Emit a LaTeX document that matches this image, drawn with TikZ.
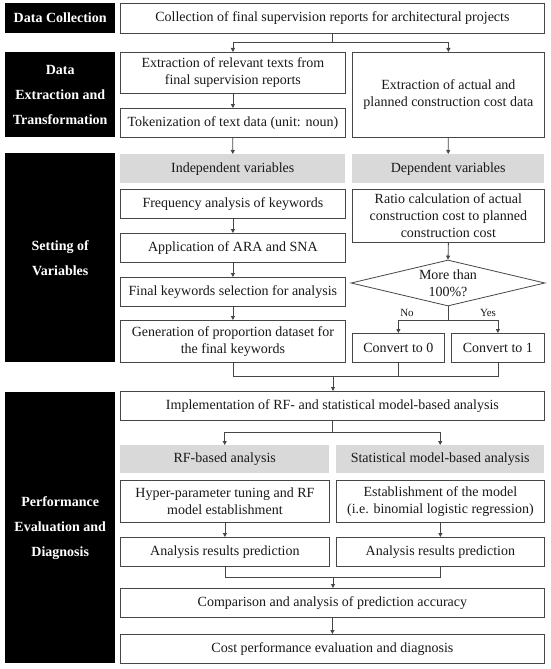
\documentclass[tikz,border=0pt]{standalone}
\usepackage{fontspec}
\setmainfont{Liberation Serif}
\usetikzlibrary{arrows.meta,shapes.geometric}
\definecolor{bord}{RGB}{70,70,70}
\definecolor{txt}{RGB}{25,25,25}
\definecolor{hdr}{RGB}{217,217,217}
\tikzset{
  box/.style={draw=bord, line width=0.8pt, fill=white, anchor=north west, inner sep=0pt, align=center, text=txt, font=\fontsize{14}{17}\selectfont},
  hbox/.style={fill=hdr, anchor=north west, inner sep=0pt, align=center, text=txt, font=\fontsize{14}{17}\selectfont},
  blk/.style={fill=black, anchor=north west, inner sep=0pt, align=center, text=white, font=\bfseries\fontsize{14}{25}\selectfont},
  conn/.style={draw=bord, line width=0.8pt},
  arr/.style={conn, -{Triangle[length=4pt,width=4pt]}},
  lbl/.style={text=txt, font=\fontsize{11}{12}\selectfont, inner sep=0pt}
}
\begin{document}
\begin{tikzpicture}[x=1pt,y=-1pt]
\useasboundingbox (0,0) rectangle (550,669);
% black section labels
\node[blk, minimum width=110pt, minimum height=30pt] (dc) at (5,3) {Data Collection};
\node[blk, minimum width=110pt, minimum height=85pt] (det) at (5,52) {Data\\Extraction and\\Transformation};
\node[blk, minimum width=110pt, minimum height=209pt] (sov) at (5,153) {Setting of\\Variables};
\node[blk, minimum width=110pt, minimum height=271pt] (ped) at (5,392) {Performance\\Evaluation and\\Diagnosis};
% data collection
\node[box, minimum width=424pt, minimum height=30pt] (coll) at (120,3) {Collection of final supervision reports for architectural projects};
% extraction
\node[box, minimum width=225pt, minimum height=41pt] (ert) at (120,52) {Extraction of relevant texts from\\final supervision reports};
\node[box, minimum width=225pt, minimum height=29pt] (tok) at (120,108) {Tokenization of text data (unit: noun)};
\node[box, minimum width=192pt, minimum height=85pt] (eac) at (352,52) {Extraction of actual and\\planned construction cost data};
% variables
\node[hbox, minimum width=225pt, minimum height=29pt] (iv) at (120,154) {Independent variables};
\node[hbox, minimum width=192pt, minimum height=29pt] (dv) at (352,154) {Dependent variables};
\node[box, minimum width=225pt, minimum height=29pt] (freq) at (120,189) {Frequency analysis of keywords};
\node[box, minimum width=225pt, minimum height=29pt] (app) at (120,233) {Application of ARA and SNA};
\node[box, minimum width=225pt, minimum height=29pt] (fin) at (120,277) {Final keywords selection for analysis};
\node[box, minimum width=225pt, minimum height=42pt] (gen) at (120,320) {Generation of proportion dataset for\\the final keywords};
\node[box, minimum width=192pt, minimum height=53pt] (ratio) at (352,189) {Ratio calculation of actual\\construction cost to planned\\construction cost};
\node[diamond, draw=bord, line width=0.8pt, fill=white, inner sep=0pt, minimum width=194pt, minimum height=46pt,
  label={[align=center, text=txt, font=\fontsize{14}{17}\selectfont]center:More than\\100\%?}] (dia) at (448,283) {};
\node[box, minimum width=92pt, minimum height=29pt] (c0) at (352,333) {Convert to 0};
\node[box, minimum width=93pt, minimum height=29pt] (c1) at (451,333) {Convert to 1};
% performance
\node[box, minimum width=424pt, minimum height=29pt] (impl) at (120,391) {Implementation of RF- and statistical model-based analysis};
\node[hbox, minimum width=209pt, minimum height=28pt] (rfa) at (120,445) {RF-based analysis};
\node[hbox, minimum width=208pt, minimum height=28pt] (sma) at (336,445) {Statistical model-based analysis};
\node[box, minimum width=209pt, minimum height=42pt] (hyp) at (120,480) {Hyper-parameter tuning and RF\\model establishment};
\node[box, minimum width=208pt, minimum height=42pt] (est) at (336,480) {Establishment of the model\\(i.e. binomial logistic regression)};
\node[box, minimum width=209pt, minimum height=29pt] (arl) at (120,537) {Analysis results prediction};
\node[box, minimum width=208pt, minimum height=29pt] (arr) at (336,537) {Analysis results prediction};
\node[box, minimum width=424pt, minimum height=29pt] (cmp) at (120,588) {Comparison and analysis of prediction accuracy};
\node[box, minimum width=424pt, minimum height=29pt] (cost) at (120,634) {Cost performance evaluation and diagnosis};
% connectors
\draw[conn] (coll.south) -- ++(0,9) coordinate (s1);
\draw[arr] (s1) -| (ert.north);
\draw[arr] (s1) -| (eac.north);
\draw[arr] (ert) -- (tok);
\draw[arr] (tok) -- (iv);
\draw[arr] (eac) -- (dv);
\draw[arr] (freq) -- (app);
\draw[arr] (app) -- (fin);
\draw[arr] (fin) -- (gen);
\draw[arr] (ratio.south) -- (dia.north);
\draw[conn] (dia.south) -- ++(0,14) coordinate (s2);
\draw[arr] (s2) -| (c0.north);
\draw[arr] (s2) -| (c1.north);
\node[lbl] (no) at (407,313) {No};
\node[lbl] (yes) at (488,313) {Yes};
\coordinate (j1) at (333,376);
\draw[conn] (gen.south) |- (j1);
\draw[conn] (c0.south) |- (j1);
\draw[conn] (c1.south) |- (j1);
\draw[arr] (j1) -- (j1 |- impl.north);
\draw[conn] (impl.south) -- ++(0,12) coordinate (s3);
\draw[arr] (s3) -| (rfa.north);
\draw[arr] (s3) -| (sma.north);
\draw[arr] (hyp) -- (arl);
\draw[arr] (est) -- (arr);
\coordinate (j2) at (333,577);
\draw[conn] (arl.south) |- (j2);
\draw[conn] (arr.south) |- (j2);
\draw[arr] (j2) -- (j2 |- cmp.north);
\draw[arr] (cmp) -- (cost);
\end{tikzpicture}
\end{document}
